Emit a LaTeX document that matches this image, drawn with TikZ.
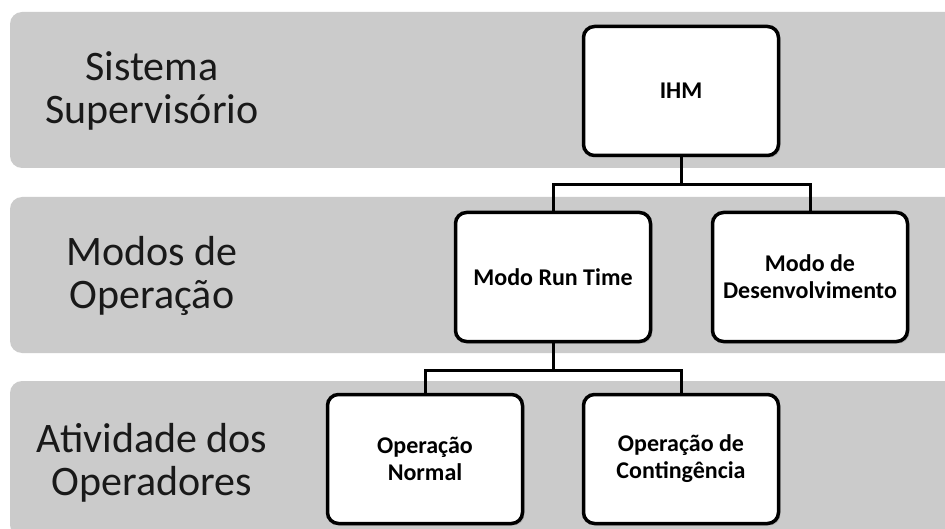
\documentclass[tikz,border=0pt]{standalone}
\usepackage{fontspec}
\setmainfont{Carlito}
\usetikzlibrary{shadows}
\definecolor{bandgray}{RGB}{203,203,203}
\begin{document}
\begin{tikzpicture}[x=1pt, y=-1pt,
  band/.style={fill=bandgray, rounded corners=12pt},
  lbl/.style={align=center, font=\fontsize{42}{43}\selectfont, text=black!90},
  box/.style={draw, fill=white, line width=3.5pt, rounded corners=11pt,
    minimum width=195pt, minimum height=129pt, align=center,
    font=\fontsize{24}{27}\selectfont\bfseries,
    drop shadow={shadow xshift=2pt, shadow yshift=-2pt, opacity=0.3}},
  link/.style={line width=3pt}]
\useasboundingbox (0,0) rectangle (945,529);
\clip (0,0) rectangle (945,529);
\fill[band] (10,12) rectangle (970,168);
\fill[band] (10,197) rectangle (970,353);
\fill[band] (10,381) rectangle (970,537);
\node[lbl] (lbl1) at (152,91){Sistema\\Supervisório};
\node[lbl] (lbl2) at (152,276){Modos de\\Operação};
\node[lbl] (lbl3) at (152,463){Atividade dos\\Operadores};
\node[box] (ihm) at (681,91){IHM};
\node[box] (run) at (553,277){Modo Run Time};
\node[box] (dev) at (810,277){Modo de\\Desenvolvimento};
\node[box] (norm) at (425,459){Operação\\Normal};
\node[box] (cont) at (681,459){Operação de\\Contingência};
\draw[link] (ihm.south) -- ++(0,27) coordinate (j1);
\draw[link] (j1) -| (run.north);
\draw[link] (j1) -| (dev.north);
\draw[link] (run.south) -- ++(0,27) coordinate (j2);
\draw[link] (j2) -| (norm.north);
\draw[link] (j2) -| (cont.north);
\end{tikzpicture}
\end{document}
